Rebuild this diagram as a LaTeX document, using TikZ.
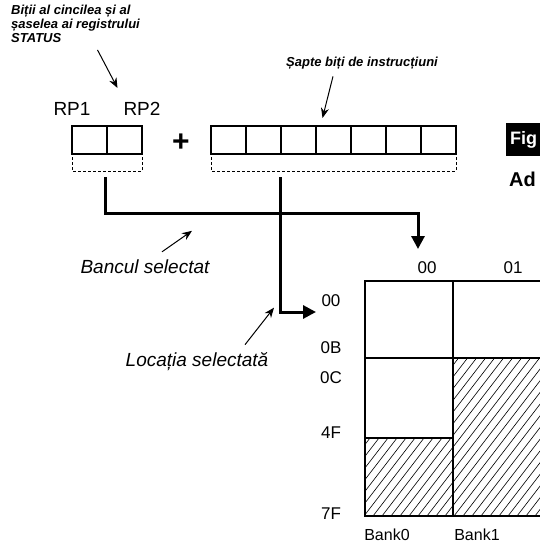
\documentclass[tikz,border=0pt]{standalone}
\usepackage{fontspec}
\setmainfont{Liberation Sans}
\usetikzlibrary{arrows.meta,calc,positioning}

\begin{document}
\begin{tikzpicture}[x=1pt,y=-1pt,
  cell/.style={draw,line width=1.3pt,minimum width=35pt,minimum height=28pt,inner sep=0pt,outer sep=0pt},
  bus/.style={line width=3pt,-{Triangle[width=13pt,length=13pt]}},
  ptr/.style={line width=1pt,-{Stealth[length=10pt,width=8pt]}},
  brace/.style={line width=1pt,dash pattern=on 3pt off 2pt},
  note/.style={font=\fontsize{13}{14}\selectfont\bfseries\itshape,inner sep=0pt},
  tag/.style={font=\fontsize{19}{21}\selectfont\itshape,inner sep=0pt},
  addr/.style={font=\fontsize{17}{19}\selectfont,inner sep=0pt},
  hatch/.style={line width=0.6pt}]
 \clip (0,0) rectangle (540,547);
 \fill[white] (0,0) rectangle (540,547);
 \node[note,align=left,anchor=north west] (status) at (11,5) {Biții al cincilea și al\\șaselea ai registrului\\STATUS};
 \node[note] (instr) at (362,63) {Șapte biți de instrucțiuni};
 \node[font=\fontsize{19}{21}\selectfont,inner sep=0pt] (rp1) at (72,109) {RP1};
 \node[font=\fontsize{19}{21}\selectfont,inner sep=0pt] (rp2) at (142,109) {RP2};
 \node[cell] (b1) at (89.5,140) {};
 \node[cell,right=0pt of b1] (b2) {};
 \node[font=\fontsize{30}{30}\selectfont\bfseries,inner sep=0pt] (plus) at (181,143) {+};
 \node[cell] (i1) at (228.5,140) {};
 \foreach \j [count=\i] in {2,...,7}
   \node[cell,right=0pt of i\i] (i\j) {};
 \draw[brace] ($(b1.south west)+(0,3)$) -- ($(b1.south west)+(0,17)$) -| ($(b2.south east)+(0,3)$);
 \draw[brace] ($(i1.south west)+(0,3)$) -- ($(i1.south west)+(0,17)$) -| ($(i7.south east)+(0,3)$);
 \coordinate (selA) at ($(b1.south east)+(-2,23)$);
 \coordinate (selB) at ($(i2.south east)+(-1,23)$);
 \coordinate (bankrow) at (0,213);
 \coordinate (bankin) at (418,249);
 \coordinate (rowin) at (316,312);
 \draw[bus] (selA) -- (selA |- bankrow) -| (bankin);
 \draw[bus] (selB) |- (rowin);
 % banks
 \coordinate (g0) at (365,281);
 \coordinate (g1) at (541,516);
 \begin{scope}
  \clip (365,438) rectangle (453,516) (453,358) rectangle (541,516);
  \foreach \k in {0,9,...,400}
    \draw[hatch] (\k+220,516) -- ++(130,-169);
 \end{scope}
 \draw[line width=1.3pt] (g0) rectangle (g1);
 \draw[line width=1.3pt] (453,281) -- (453,516) (365,358) -- (541,358) (365,438) -- (453,438);
 \node[addr] (c00) at (427,268) {00};
 \node[addr] (c01) at (513,268) {01};
 \node[addr] (r00) at (331,301) {00};
 \node[addr] (r0B) at (331,348) {0B};
 \node[addr] (r0C) at (331,378) {0C};
 \node[addr] (r4F) at (331,433) {4F};
 \node[addr] (r7F) at (331,514) {7F};
 \node[font=\fontsize{16}{18}\selectfont,inner sep=0pt] (bank0) at (387,535) {Bank0};
 \node[font=\fontsize{16}{18}\selectfont,inner sep=0pt] (bank1) at (477,535) {Bank1};
 \node[tag] (bancul) at (145,267) {Bancul selectat};
 \node[tag] (locatia) at (197,362) {Locația selectată};
 \draw[ptr] ($(status.south)+(22,7)$) -- ($(b2.north)+(-7,-38)$);
 \draw[ptr] ($(instr.south)+(-29,7)$) -- ($(i4.north)+(-11,-8)$);
 \draw[ptr] ($(bancul.north)+(17,-8)$) -- ($(bancul.north)+(47,-29)$);
 \draw[ptr] ($(locatia.north)+(48,-8)$) -- ($(locatia.north)+(77,-45)$);
 % cut-off caption at the right edge
 \fill[black] (506,123) rectangle (545,156);
 \node[font=\fontsize{18}{20}\selectfont\bfseries,text=white,anchor=west,inner sep=0pt] (fig) at (510,140) {Fig};
 \node[font=\fontsize{20}{22}\selectfont\bfseries,anchor=west,inner sep=0pt] (ad) at (509,179) {Ad};
\end{tikzpicture}
\end{document}
